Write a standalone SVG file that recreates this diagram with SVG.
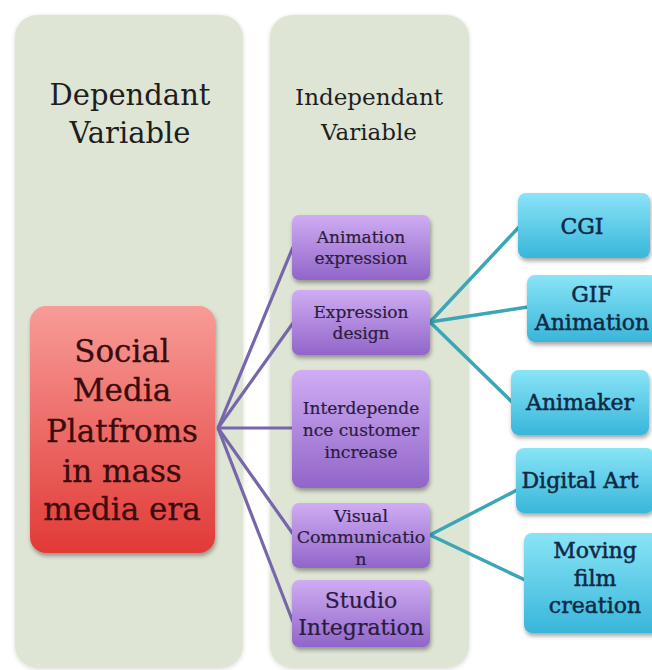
<svg xmlns="http://www.w3.org/2000/svg" width="652" height="670" viewBox="0 0 652 670">
<defs>
<linearGradient id="gRed" x1="0" y1="0" x2="0" y2="1"><stop offset="0" stop-color="#f89c97"/><stop offset="1" stop-color="#e13a37"/></linearGradient>
<linearGradient id="gPur" x1="0" y1="0" x2="0" y2="1"><stop offset="0" stop-color="#cfadf3"/><stop offset="1" stop-color="#9165c9"/></linearGradient>
<linearGradient id="gBlu" x1="0" y1="0" x2="0" y2="1"><stop offset="0" stop-color="#8ae4f7"/><stop offset="1" stop-color="#38b6da"/></linearGradient>
<filter id="sh" x="-10%" y="-10%" width="130%" height="140%"><feDropShadow dx="1" dy="3" stdDeviation="2" flood-color="#000" flood-opacity="0.35"/></filter>
<filter id="psh" x="-5%" y="-5%" width="110%" height="110%"><feDropShadow dx="0" dy="1" stdDeviation="2" flood-color="#000" flood-opacity="0.15"/></filter>
</defs>
<style>
.panel{fill:#dfe5d5;filter:url(#psh)}
.title{font-family:"DejaVu Serif",serif;fill:#1e1e1e;text-anchor:middle}
.red{fill:url(#gRed);filter:url(#sh)}
.pur{fill:url(#gPur);filter:url(#sh)}
.blu{fill:url(#gBlu);filter:url(#sh)}
.rt{font-family:"DejaVu Serif",serif;font-size:31px;fill:#3a0c0c;stroke:#3a0c0c;stroke-width:0.3;text-anchor:middle}
.pt{font-family:"DejaVu Serif",serif;fill:#2b1b3d;stroke:#2b1b3d;stroke-width:0.2;text-anchor:middle}
.bt{font-family:"DejaVu Serif",serif;font-size:22px;fill:#0f2a45;stroke:#0f2a45;stroke-width:0.5;text-anchor:middle}
.pc{stroke:#7766aa;stroke-width:3.2;fill:none}
.tc{stroke:#3aa6b6;stroke-width:3.5;fill:none}
</style>
<rect width="652" height="670" fill="#fff"/>
<g id="panel-dependant">
<rect class="panel" x="15" y="15" width="228" height="653" rx="22"/>
<text class="title" style="font-size:29px" x="130" y="105">Dependant</text>
<text class="title" style="font-size:29px" x="130" y="143">Variable</text>
</g>
<g id="panel-independant">
<rect class="panel" x="270" y="15" width="199" height="653" rx="22"/>
<text class="title" style="font-size:23px" x="369" y="105">Independant</text>
<text class="title" style="font-size:23px" x="369" y="140">Variable</text>
</g>
<g id="connectors">
<line class="pc" x1="218" y1="428" x2="293" y2="247"/>
<line class="pc" x1="218" y1="428" x2="293" y2="323"/>
<line class="pc" x1="218" y1="428" x2="293" y2="428"/>
<line class="pc" x1="218" y1="428" x2="293" y2="534"/>
<line class="pc" x1="218" y1="428" x2="293" y2="622"/>
<line class="tc" x1="430" y1="322" x2="519" y2="227"/>
<line class="tc" x1="430" y1="322" x2="528" y2="307"/>
<line class="tc" x1="430" y1="322" x2="512" y2="402"/>
<line class="tc" x1="430" y1="535" x2="517" y2="490"/>
<line class="tc" x1="430" y1="535" x2="525" y2="580"/>
</g>
<g id="social-media">
<rect class="red" x="30" y="306" width="185" height="247" rx="16"/>
<text class="rt" x="122" y="362">Social</text>
<text class="rt" x="122" y="401">Media</text>
<text class="rt" x="122" y="442">Platfroms</text>
<text class="rt" x="122" y="482">in mass</text>
<text class="rt" x="122" y="520">media era</text>
</g>
<g id="animation-expression">
<rect class="pur" x="292" y="215" width="138" height="65" rx="7"/>
<text class="pt" style="font-size:17px" x="361" y="243">Animation</text>
<text class="pt" style="font-size:17px" x="361" y="264">expression</text>
</g>
<g id="expression-design">
<rect class="pur" x="292" y="290" width="138" height="65" rx="7"/>
<text class="pt" style="font-size:17px" x="361" y="318">Expression</text>
<text class="pt" style="font-size:17px" x="361" y="339">design</text>
</g>
<g id="interdependence">
<rect class="pur" x="292" y="370" width="137" height="118" rx="9"/>
<text class="pt" style="font-size:17px" x="361" y="414">Interdepende</text>
<text class="pt" style="font-size:17px" x="361" y="436">nce customer</text>
<text class="pt" style="font-size:17px" x="361" y="458">increase</text>
</g>
<g id="visual-communication">
<rect class="pur" x="292" y="503" width="138" height="65" rx="7"/>
<text class="pt" style="font-size:17.5px" x="361" y="522">Visual</text>
<text class="pt" style="font-size:17.5px" x="361" y="543">Communicatio</text>
<text class="pt" style="font-size:17.5px" x="361" y="565">n</text>
</g>
<g id="studio-integration">
<rect class="pur" x="292" y="580" width="138" height="67" rx="7"/>
<text class="pt" style="font-size:22px" x="361" y="608">Studio</text>
<text class="pt" style="font-size:22px" x="361" y="635">Integration</text>
</g>
<g id="cgi">
<rect class="blu" x="518" y="193" width="132" height="65" rx="8"/>
<text class="bt" x="582" y="234">CGI</text>
</g>
<g id="gif-animation">
<rect class="blu" x="527" y="275" width="132" height="67" rx="8"/>
<text class="bt" x="592" y="302">GIF</text>
<text class="bt" x="592" y="330">Animation</text>
</g>
<g id="animaker">
<rect class="blu" x="511" y="370" width="138" height="65" rx="8"/>
<text class="bt" x="580" y="410">Animaker</text>
</g>
<g id="digital-art">
<rect class="blu" x="516" y="448" width="138" height="65" rx="8"/>
<text class="bt" x="580" y="488">Digital Art</text>
</g>
<g id="moving-film">
<rect class="blu" x="524" y="533" width="140" height="100" rx="8"/>
<text class="bt" x="595" y="558">Moving</text>
<text class="bt" x="595" y="586">film</text>
<text class="bt" x="595" y="613">creation</text>
</g>
</svg>
